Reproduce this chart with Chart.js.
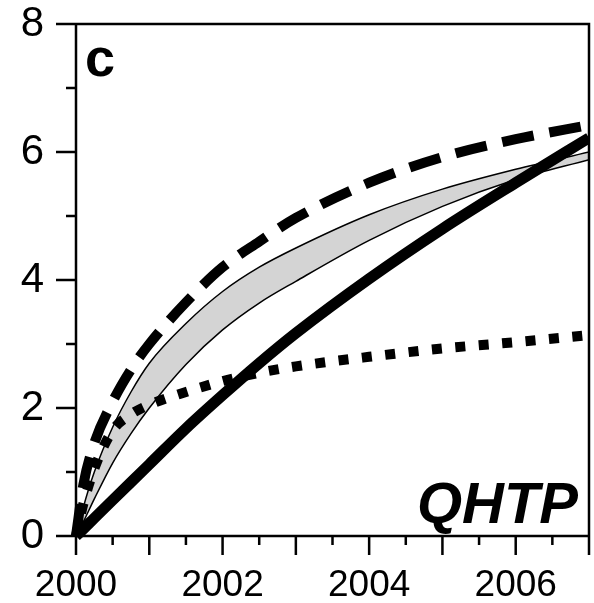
<!DOCTYPE html>
<html>
<head>
<meta charset="utf-8">
<script src="https://cdn.jsdelivr.net/npm/chart.js@4.4.0/dist/chart.umd.min.js"></script>
<style>
  html, body { margin: 0; padding: 0; background: #fff; }
  canvas { display: block; }
</style>
</head>
<body>
<canvas id="chartC" width="594" height="603"></canvas>
<script>
// Sample years shared by all curves
const years = [2000, 2000.1, 2000.25, 2000.5, 2000.75, 2001, 2001.5, 2002, 2002.5, 2003, 2004, 2005, 2006, 2007];

// Curves (cumulative values)
const solidCurve  = [0, 0.11, 0.28, 0.56, 0.84, 1.12, 1.68, 2.2, 2.7, 3.17, 4.02, 4.8, 5.52, 6.22];
const dashedCurve = [0, 0.8, 1.45, 2.1, 2.6, 3.0, 3.65, 4.2, 4.6, 4.97, 5.52, 5.92, 6.2, 6.42];
const dottedCurve = [0, 0.5, 1.05, 1.65, 1.9, 2.05, 2.25, 2.42, 2.55, 2.65, 2.8, 2.93, 3.03, 3.14];
const bandUpper   = [0, 0.45, 1.0, 1.7, 2.25, 2.7, 3.32, 3.82, 4.2, 4.5, 5.02, 5.42, 5.73, 6.0];
const bandLower   = [0, 0.22, 0.58, 1.14, 1.6, 2.0, 2.68, 3.22, 3.64, 3.98, 4.62, 5.15, 5.57, 5.88];

// Axis ticks
const xTickLabels = [2000, 2002, 2004, 2006];
const yearTicks = [2000, 2001, 2002, 2003, 2004, 2005, 2006, 2007];
const halfYearTicks = [2000.5, 2001.5, 2002.5, 2003.5, 2004.5, 2005.5, 2006.5];
const yTickLabels = [0, 2, 4, 6, 8];
const yMinorTicks = [1, 3, 5, 7];

const FONT = '"Liberation Sans", Arial, Helvetica, sans-serif';

function toPoints(values) {
    return values.map((v, i) => ({ x: years[i], y: v }));
}

// Box frame, outward tick marks and the panel texts
const frameAndTicks = {
    id: 'frameAndTicks',
    afterDraw(chart) {
        const { ctx, chartArea: a, scales } = chart;
        const x = scales.x, y = scales.y;
        ctx.save();
        ctx.strokeStyle = '#000';
        ctx.lineWidth = 2.5;
        ctx.lineCap = 'butt';
        ctx.beginPath();
        ctx.rect(a.left, a.top, a.right - a.left, a.bottom - a.top);
        yearTicks.forEach(v => {
            const px = x.getPixelForValue(v);
            ctx.moveTo(px, a.bottom);
            ctx.lineTo(px, a.bottom + 19);
        });
        halfYearTicks.forEach(v => {
            const px = x.getPixelForValue(v);
            ctx.moveTo(px, a.bottom);
            ctx.lineTo(px, a.bottom + 9);
        });
        yTickLabels.forEach(v => {
            const py = y.getPixelForValue(v);
            ctx.moveTo(a.left, py);
            ctx.lineTo(a.left - 20, py);
        });
        yMinorTicks.forEach(v => {
            const py = y.getPixelForValue(v);
            ctx.moveTo(a.left, py);
            ctx.lineTo(a.left - 10, py);
        });
        ctx.stroke();

        ctx.fillStyle = '#000';
        ctx.textBaseline = 'alphabetic';
        ctx.textAlign = 'left';
        ctx.font = 'bold 54px ' + FONT;
        ctx.fillText('c', a.left + 9, a.top + 52);
        ctx.textAlign = 'right';
        ctx.font = 'italic bold 58px ' + FONT;
        ctx.fillText('QHTP', a.right - 11, a.bottom - 13);
        ctx.restore();
    }
};

const lineClip = { left: 6, bottom: 6, right: 0, top: 0 };

new Chart(document.getElementById('chartC'), {
    type: 'line',
    data: {
        datasets: [
            {
                label: 'solid',
                data: toPoints(solidCurve),
                borderColor: '#000',
                borderWidth: 11,
                fill: false,
                clip: lineClip
            },
            {
                label: 'dashed',
                data: toPoints(dashedCurve),
                borderColor: '#000',
                borderWidth: 10,
                borderDash: [32, 16],
                borderCapStyle: 'butt',
                fill: false,
                clip: lineClip
            },
            {
                label: 'dotted',
                data: toPoints(dottedCurve),
                borderColor: '#000',
                borderWidth: 10,
                borderDash: [10, 13.5],
                borderCapStyle: 'butt',
                fill: false,
                clip: lineClip
            },
            {
                label: 'upper',
                data: toPoints(bandUpper),
                borderColor: '#000',
                borderWidth: 1.5,
                backgroundColor: '#d4d4d4',
                fill: '+1',
                clip: lineClip
            },
            {
                label: 'lower',
                data: toPoints(bandLower),
                borderColor: '#000',
                borderWidth: 1.5,
                fill: false,
                clip: lineClip
            }
        ]
    },
    options: {
        responsive: false,
        animation: false,
        devicePixelRatio: 1,
        layout: { padding: { top: 24, right: 5, left: 0, bottom: 0 } },
        elements: {
            point: { radius: 0 },
            line: { cubicInterpolationMode: 'monotone' }
        },
        plugins: {
            legend: { display: false },
            tooltip: { enabled: false },
            filler: { drawTime: 'beforeDatasetsDraw' }
        },
        scales: {
            x: {
                type: 'linear',
                min: 2000,
                max: 2007,
                afterFit: s => {
                    s.height = 67;
                    s.paddingLeft = 0;
                    s.paddingRight = 0;
                },
                border: { display: false },
                grid: {
                    drawOnChartArea: false,
                    drawTicks: true,
                    tickLength: 20,
                    tickColor: 'rgba(0,0,0,0)'
                },
                ticks: {
                    stepSize: 1,
                    autoSkip: false,
                    maxRotation: 0,
                    padding: 11,
                    color: '#000',
                    font: { family: FONT, size: 37, lineHeight: 1 },
                    callback: v => xTickLabels.includes(v) ? String(v) : ''
                }
            },
            y: {
                min: 0,
                max: 8,
                afterFit: s => {
                    s.width = 76;
                    s.paddingTop = 0;
                    s.paddingBottom = 0;
                },
                border: { display: false },
                grid: {
                    drawOnChartArea: false,
                    drawTicks: true,
                    tickLength: 20,
                    tickColor: 'rgba(0,0,0,0)'
                },
                ticks: {
                    stepSize: 2,
                    padding: 12,
                    color: '#000',
                    font: { family: FONT, size: 42, lineHeight: 1 },
                    callback: v => yTickLabels.includes(v) ? String(v) : ''
                }
            }
        }
    },
    plugins: [frameAndTicks]
});
</script>
</body>
</html>
